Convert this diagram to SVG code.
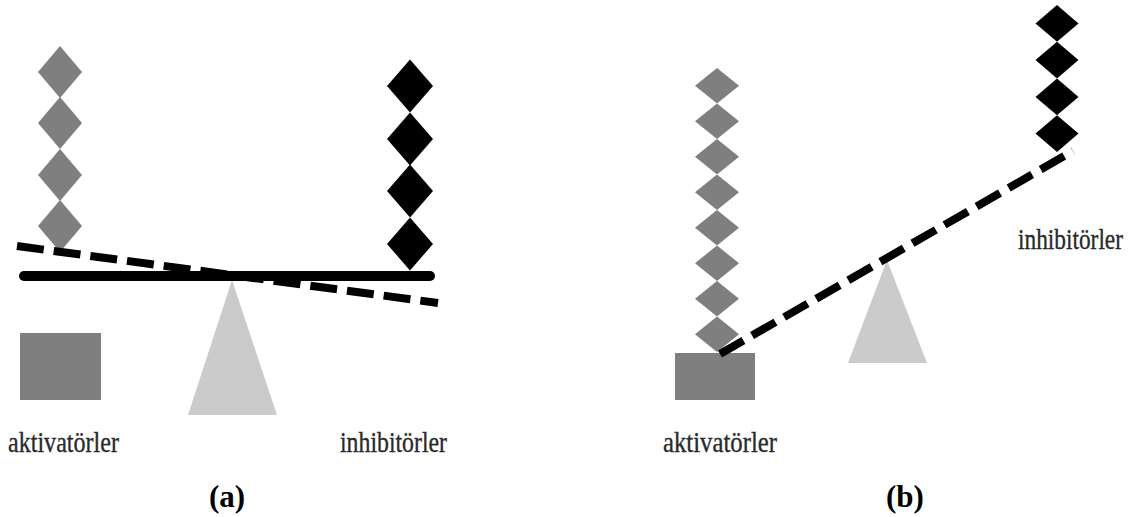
<svg xmlns="http://www.w3.org/2000/svg" width="1135" height="517" viewBox="0 0 1135 517">
<style>
.gd{fill:#7f7f7f}
.bd{fill:#000}
.blk{fill:#7f7f7f}
.tri{fill:#cccbcc}
.dash{stroke:#000;stroke-width:8;stroke-dasharray:27 10;fill:none}
.bar{stroke:#000;stroke-width:10;stroke-linecap:round;fill:none}
.lbl{font-family:"Liberation Serif","Times New Roman",serif;font-size:25px;fill:#2a2a2a;stroke:#2a2a2a;stroke-width:0.3}
.cap{font-family:"Liberation Serif","Times New Roman",serif;font-size:31px;font-weight:bold;fill:#000;text-anchor:middle}
</style>
<rect width="1135" height="517" fill="#fff"/>
<g id="panel-a">
  <g id="a-activators-stack">
    <polygon class="gd" points="60,46 82,72 60,98 38,72"/>
    <polygon class="gd" points="60,97 82,123 60,149 38,123"/>
    <polygon class="gd" points="60,149 82,175 60,201 38,175"/>
    <polygon class="gd" points="60,200 82,226 60,252 38,226"/>
  </g>
  <g id="a-inhibitors-stack">
    <polygon class="bd" points="410,59.5 433,86 410,112.5 387,86"/>
    <polygon class="bd" points="410,112.5 433,139 410,165.5 387,139"/>
    <polygon class="bd" points="410,164.5 433,191 410,217.5 387,191"/>
    <polygon class="bd" points="410,217.5 433,244 410,270.5 387,244"/>
  </g>
  <g id="a-fulcrum"><polygon class="tri" points="232,280 277,415 188,415"/></g>
  <g id="a-activator-block"><rect class="blk" x="20" y="333" width="81" height="67"/></g>
  <g id="a-beam">
    <line class="bar" x1="24" y1="276" x2="430" y2="276"/>
    <line class="dash" x1="17" y1="246" x2="438" y2="303"/>
  </g>
  <text class="lbl" transform="translate(8,452) scale(1,1.16)" textLength="111" lengthAdjust="spacingAndGlyphs">aktivatörler</text>
  <text class="lbl" transform="translate(340,452) scale(1,1.16)" textLength="107" lengthAdjust="spacingAndGlyphs">inhibitörler</text>
  <text class="cap" x="227" y="507">(a)</text>
</g>
<g id="panel-b">
  <g id="b-activators-stack">
    <polygon class="gd" points="717,68 739,85.75 717,103.5 695,85.75"/>
    <polygon class="gd" points="717,103.5 739,121.25 717,139 695,121.25"/>
    <polygon class="gd" points="717,139 739,156.75 717,174.5 695,156.75"/>
    <polygon class="gd" points="717,174.5 739,192.25 717,210 695,192.25"/>
    <polygon class="gd" points="717,210 739,227.75 717,245.5 695,227.75"/>
    <polygon class="gd" points="717,245.5 739,263.25 717,281 695,263.25"/>
    <polygon class="gd" points="717,281 739,298.75 717,316.5 695,298.75"/>
    <polygon class="gd" points="717,316.5 739,334.25 717,352 695,334.25"/>
  </g>
  <g id="b-inhibitors-stack">
    <polygon class="bd" points="1057,5 1078.5,23.4 1057,41.8 1035.5,23.4"/>
    <polygon class="bd" points="1057,41.7 1078.5,60.1 1057,78.5 1035.5,60.1"/>
    <polygon class="bd" points="1057,78.5 1078.5,96.9 1057,115.3 1035.5,96.9"/>
    <polygon class="bd" points="1057,115.2 1078.5,133.6 1057,152 1035.5,133.6"/>
  </g>
  <g id="b-fulcrum"><polygon class="tri" points="887,260 927,363 848,363"/></g>
  <g id="b-activator-block"><rect class="blk" x="675" y="353" width="80" height="47"/></g>
  <g id="b-beam">
    <line class="dash" x1="720" y1="354" x2="1073" y2="151"/>
  </g>
  <text class="lbl" transform="translate(663,452) scale(1,1.16)" textLength="114" lengthAdjust="spacingAndGlyphs">aktivatörler</text>
  <text class="lbl" transform="translate(1018,249) scale(1,1.16)" textLength="105" lengthAdjust="spacingAndGlyphs">inhibitörler</text>
  <text class="cap" x="905" y="507">(b)</text>
</g>
</svg>
